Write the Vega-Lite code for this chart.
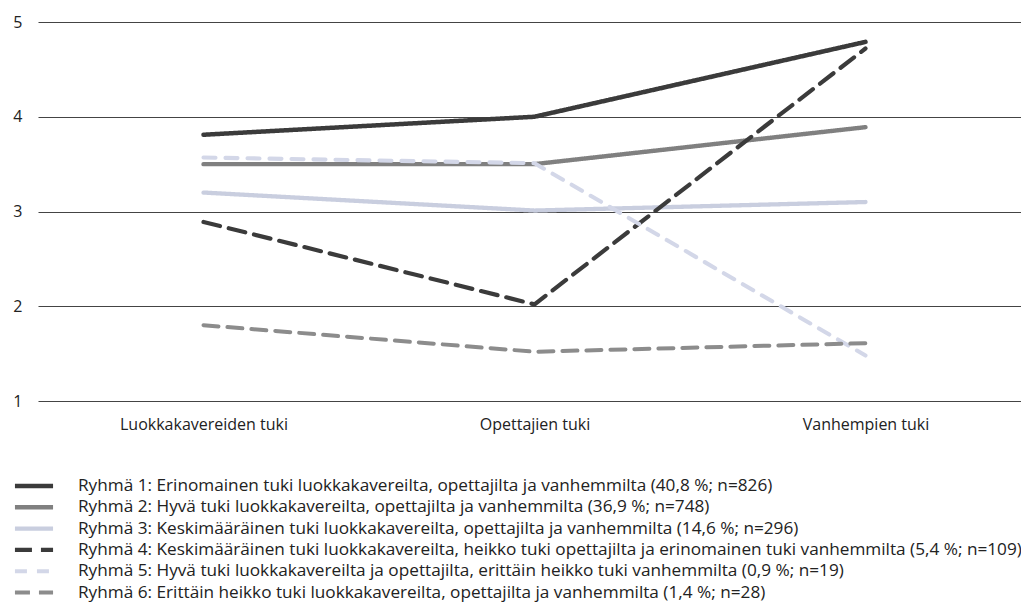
{
  "$schema": "https://vega.github.io/schema/vega-lite/v6.json",
  "width": 993,
  "height": 379,
  "autosize": {"type": "none"},
  "padding": {"left": 38, "top": 22, "right": 0, "bottom": 213},
  "background": "white",
  "config": {
    "view": {"stroke": null},
    "font": "Open Sans"
  },
  "data": {
    "values": [
      {"ryhma": "Ryhmä 1: Erinomainen tuki luokkakavereilta, opettajilta ja vanhemmilta (40,8 %; n=826)", "tuki": "Luokkakavereiden tuki", "arvo": 3.81},
      {"ryhma": "Ryhmä 1: Erinomainen tuki luokkakavereilta, opettajilta ja vanhemmilta (40,8 %; n=826)", "tuki": "Opettajien tuki", "arvo": 4.0},
      {"ryhma": "Ryhmä 1: Erinomainen tuki luokkakavereilta, opettajilta ja vanhemmilta (40,8 %; n=826)", "tuki": "Vanhempien tuki", "arvo": 4.79},
      {"ryhma": "Ryhmä 2: Hyvä tuki luokkakavereilta, opettajilta ja vanhemmilta (36,9 %; n=748)", "tuki": "Luokkakavereiden tuki", "arvo": 3.5},
      {"ryhma": "Ryhmä 2: Hyvä tuki luokkakavereilta, opettajilta ja vanhemmilta (36,9 %; n=748)", "tuki": "Opettajien tuki", "arvo": 3.5},
      {"ryhma": "Ryhmä 2: Hyvä tuki luokkakavereilta, opettajilta ja vanhemmilta (36,9 %; n=748)", "tuki": "Vanhempien tuki", "arvo": 3.89},
      {"ryhma": "Ryhmä 3: Keskimääräinen tuki luokkakavereilta, opettajilta ja vanhemmilta (14,6 %; n=296)", "tuki": "Luokkakavereiden tuki", "arvo": 3.2},
      {"ryhma": "Ryhmä 3: Keskimääräinen tuki luokkakavereilta, opettajilta ja vanhemmilta (14,6 %; n=296)", "tuki": "Opettajien tuki", "arvo": 3.01},
      {"ryhma": "Ryhmä 3: Keskimääräinen tuki luokkakavereilta, opettajilta ja vanhemmilta (14,6 %; n=296)", "tuki": "Vanhempien tuki", "arvo": 3.1},
      {"ryhma": "Ryhmä 4: Keskimääräinen tuki luokkakavereilta, heikko tuki opettajilta ja erinomainen tuki vanhemmilta (5,4 %; n=109)", "tuki": "Luokkakavereiden tuki", "arvo": 2.89},
      {"ryhma": "Ryhmä 4: Keskimääräinen tuki luokkakavereilta, heikko tuki opettajilta ja erinomainen tuki vanhemmilta (5,4 %; n=109)", "tuki": "Opettajien tuki", "arvo": 2.02},
      {"ryhma": "Ryhmä 4: Keskimääräinen tuki luokkakavereilta, heikko tuki opettajilta ja erinomainen tuki vanhemmilta (5,4 %; n=109)", "tuki": "Vanhempien tuki", "arvo": 4.72},
      {"ryhma": "Ryhmä 5: Hyvä tuki luokkakavereilta ja opettajilta, erittäin heikko tuki vanhemmilta (0,9 %; n=19)", "tuki": "Luokkakavereiden tuki", "arvo": 3.57},
      {"ryhma": "Ryhmä 5: Hyvä tuki luokkakavereilta ja opettajilta, erittäin heikko tuki vanhemmilta (0,9 %; n=19)", "tuki": "Opettajien tuki", "arvo": 3.51},
      {"ryhma": "Ryhmä 5: Hyvä tuki luokkakavereilta ja opettajilta, erittäin heikko tuki vanhemmilta (0,9 %; n=19)", "tuki": "Vanhempien tuki", "arvo": 1.48},
      {"ryhma": "Ryhmä 6: Erittäin heikko tuki luokkakavereilta, opettajilta ja vanhemmilta (1,4 %; n=28)", "tuki": "Luokkakavereiden tuki", "arvo": 1.8},
      {"ryhma": "Ryhmä 6: Erittäin heikko tuki luokkakavereilta, opettajilta ja vanhemmilta (1,4 %; n=28)", "tuki": "Opettajien tuki", "arvo": 1.52},
      {"ryhma": "Ryhmä 6: Erittäin heikko tuki luokkakavereilta, opettajilta ja vanhemmilta (1,4 %; n=28)", "tuki": "Vanhempien tuki", "arvo": 1.61}
    ]
  },
  "mark": {"type": "line", "strokeCap": "round"},
  "encoding": {
    "x": {
      "field": "tuki", "type": "nominal", "sort": null,
      "scale": {"type": "point", "padding": 0.5},
      "axis": {"title": null, "labelAngle": 0, "domain": false, "ticks": false, "labelFontSize": 16, "labelColor": "#222", "labelPadding": 15}
    },
    "y": {
      "field": "arvo", "type": "quantitative",
      "scale": {"domain": [1, 5], "nice": false},
      "axis": {"title": null, "values": [1, 2, 3, 4, 5], "domain": false, "ticks": false, "labelFontSize": 16, "labelColor": "#222", "labelPadding": 16, "gridColor": "#444", "gridWidth": 1.2, "gridOpacity": 1}
    },
    "color": {
      "field": "ryhma", "type": "nominal",
      "scale": {"range": ["#3b3b3b", "#808080", "#c9cedf", "#3b3b3b", "#d3d7e8", "#8c8c8c"]},
      "legend": {
        "title": null, "orient": "none", "legendX": -15, "legendY": 453,
        "symbolType": "M-2.2,0H2.2", "symbolSize": 300, "symbolStrokeWidth": 4,
        "labelFontSize": 17.2, "labelColor": "#222", "labelLimit": 2000, "labelOffset": 33,
        "rowPadding": 1.3, "columns": 1
      }
    },
    "strokeDash": {
      "field": "ryhma", "type": "nominal",
      "scale": {"range": [[1, 0], [1, 0], [1, 0], [17, 9], [12, 10], [15, 9]]}
    },
    "strokeWidth": {
      "field": "ryhma", "type": "nominal",
      "scale": {"range": [4.5, 4, 3, 5, 2.5, 5]},
      "legend": null
    }
  }
}
